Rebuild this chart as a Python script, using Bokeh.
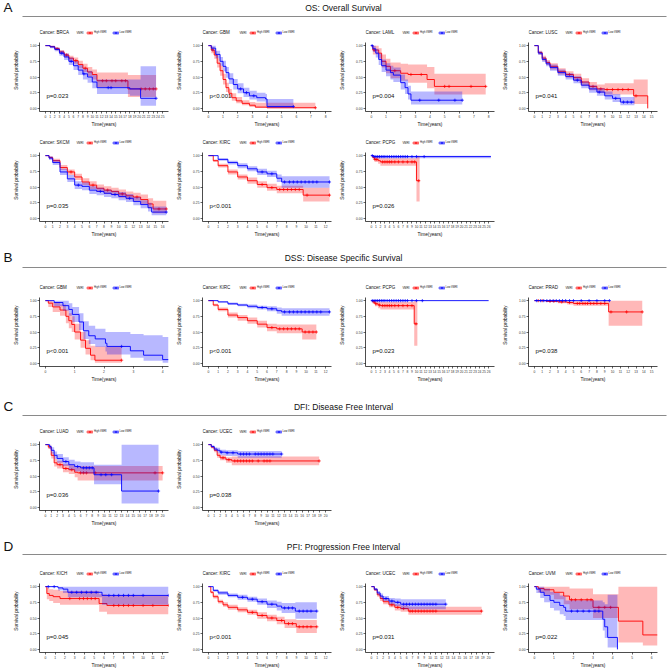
from bokeh.plotting import figure
from bokeh.layouts import column, row
from bokeh.models import Range1d, FixedTicker, NumeralTickFormatter, Label, Legend, LegendItem, Spacer
from bokeh.core.properties import value
from bokeh.embed import file_html
from bokeh.resources import INLINE

FONT = "Liberation Sans"
RED = "#FF0000"
BLUE = "#0000FF"

# ---------------- data: (time, survival, lower CI, upper CI) step points ----------------
OS_BRCA_HIGH = [(0,1,1,1),(1,0.985,0.97,1.0),(2,0.95,0.93,0.97),(3,0.90,0.87,0.93),(4,0.85,0.81,0.88),(5,0.80,0.76,0.84),(6,0.76,0.71,0.81),(7,0.70,0.64,0.76),(8,0.64,0.58,0.71),(9,0.58,0.51,0.66),(10,0.54,0.46,0.62),(11,0.44,0.34,0.57),(17.6,0.31,0.18,0.53),(23.6,0.31,0.18,0.53)]
OS_BRCA_HIGH_C = [2.5,4.5,6.5,8.5,12.2,13.0,14.2,15.0,16.3,17.1,20.4,21.3,22.2,23.0,23.6]
OS_BRCA_LOW = [(0,1,1,1),(1,0.98,0.96,1.0),(2,0.94,0.91,0.97),(3,0.88,0.84,0.92),(4,0.82,0.77,0.87),(5,0.75,0.69,0.81),(6,0.68,0.61,0.75),(7,0.61,0.53,0.69),(8,0.55,0.46,0.63),(9,0.50,0.41,0.60),(10,0.42,0.32,0.53),(11,0.33,0.23,0.46),(18,0.31,0.20,0.46),(20.3,0.16,0.04,0.67),(23.6,0.16,0.04,0.67)]
OS_BRCA_LOW_C = [3.5,5.5,8.2,13.4,14.0,23.6]

OS_GBM_HIGH = [(0,1,1,1),(0.2,0.93,0.88,0.98),(0.4,0.85,0.79,0.91),(0.6,0.72,0.65,0.80),(0.8,0.60,0.52,0.68),(1.0,0.46,0.38,0.55),(1.2,0.33,0.26,0.41),(1.4,0.24,0.18,0.31),(1.6,0.17,0.12,0.24),(1.9,0.12,0.08,0.18),(2.3,0.08,0.05,0.13),(2.8,0.05,0.02,0.10),(3.2,0.02,0.005,0.09),(4.0,0.01,0.0,0.09),(7.3,0.01,0.0,0.09)]
OS_GBM_HIGH_C = [0.3,7.3]
OS_GBM_LOW = [(0,1,1,1),(0.2,0.96,0.92,1.0),(0.5,0.86,0.80,0.92),(0.8,0.75,0.68,0.82),(1.0,0.67,0.59,0.76),(1.2,0.57,0.49,0.66),(1.4,0.47,0.39,0.56),(1.7,0.38,0.30,0.47),(2.0,0.31,0.24,0.40),(2.4,0.25,0.18,0.33),(2.8,0.20,0.14,0.28),(3.3,0.17,0.11,0.25),(3.9,0.15,0.09,0.23),(4.0,0.03,0.005,0.15),(5.8,0.03,0.005,0.15)]
OS_GBM_LOW_C = [2.2,2.6,3.1,5.8]

OS_LAML_HIGH = [(0,1,1,1),(0.1,0.93,0.86,1.0),(0.5,0.88,0.80,0.96),(0.7,0.75,0.65,0.86),(1.0,0.67,0.56,0.79),(1.3,0.60,0.48,0.73),(2.0,0.56,0.44,0.71),(2.5,0.54,0.41,0.70),(3.8,0.46,0.32,0.66),(4.3,0.35,0.22,0.55),(7.8,0.35,0.22,0.55)]
OS_LAML_HIGH_C = [0.2,1.6,2.7,3.4,5.0,5.3,6.8,7.8]
OS_LAML_LOW = [(0,1,1,1),(0.1,0.95,0.90,1.0),(0.3,0.88,0.81,0.95),(0.5,0.78,0.69,0.87),(0.7,0.68,0.58,0.78),(1.0,0.61,0.51,0.72),(1.3,0.57,0.46,0.68),(1.5,0.53,0.42,0.65),(2.0,0.41,0.30,0.54),(2.3,0.33,0.23,0.46),(2.5,0.23,0.14,0.36),(2.7,0.13,0.06,0.27),(6.2,0.13,0.06,0.27)]
OS_LAML_LOW_C = [0.05,3.3,4.6,5.7,6.2]

OS_LUSC_HIGH = [(0,1,1,1),(0.5,0.89,0.86,0.92),(1,0.80,0.76,0.84),(1.5,0.73,0.69,0.77),(2,0.67,0.62,0.72),(3,0.59,0.54,0.64),(4,0.54,0.49,0.59),(5,0.49,0.44,0.55),(6,0.42,0.36,0.48),(7,0.35,0.29,0.42),(8,0.31,0.25,0.38),(9,0.30,0.22,0.40),(12.7,0.20,0.07,0.46),(14.5,0.0,0.0,0.0)]
OS_LUSC_HIGH_C = [4.5,6.0,7.5,8.5,9.3,10.0,10.7,11.3,12.0,13.0]
OS_LUSC_LOW = [(0,1,1,1),(0.5,0.88,0.85,0.91),(1,0.78,0.74,0.82),(1.5,0.71,0.67,0.75),(2,0.65,0.60,0.70),(3,0.57,0.52,0.62),(4,0.51,0.46,0.56),(5,0.45,0.40,0.51),(6,0.37,0.32,0.43),(7,0.31,0.25,0.37),(8,0.26,0.20,0.32),(9,0.20,0.14,0.27),(10,0.16,0.10,0.23),(11,0.10,0.05,0.18),(12.8,0.10,0.05,0.18)]
OS_LUSC_LOW_C = [5.5,8.3,10.4,11.4,11.9,12.4]

OS_SKCM_HIGH = [(0,1,1,1),(0.5,0.97,0.95,0.99),(1,0.92,0.89,0.95),(2,0.81,0.77,0.85),(3,0.74,0.69,0.78),(4,0.66,0.61,0.71),(5,0.58,0.53,0.64),(6,0.53,0.47,0.59),(7,0.48,0.42,0.54),(8,0.45,0.39,0.51),(9,0.43,0.37,0.49),(10,0.39,0.33,0.46),(11,0.36,0.30,0.43),(12,0.34,0.28,0.41),(13,0.30,0.23,0.38),(14,0.23,0.16,0.32),(14.7,0.15,0.08,0.28),(16.5,0.15,0.08,0.28)]
OS_SKCM_HIGH_C = [3.5,6.5,8.5,10.5,12.5,15.5,16.5]
OS_SKCM_LOW = [(0,1,1,1),(0.5,0.96,0.93,0.99),(1,0.89,0.85,0.93),(2,0.74,0.69,0.79),(3,0.63,0.58,0.69),(4,0.53,0.47,0.59),(5,0.51,0.45,0.57),(6,0.45,0.39,0.51),(7,0.43,0.37,0.49),(8,0.40,0.34,0.46),(9,0.38,0.32,0.44),(10,0.35,0.29,0.42),(11,0.32,0.26,0.39),(12,0.27,0.21,0.34),(13,0.22,0.16,0.29),(14,0.17,0.11,0.25),(14.5,0.10,0.05,0.19),(16.5,0.10,0.05,0.19)]
OS_SKCM_LOW_C = [4.5,7.5,9.5,11.5,16.5]

OS_KIRC_HIGH = [(0,1,1,1),(0.5,0.92,0.90,0.94),(1,0.84,0.81,0.87),(2,0.74,0.70,0.78),(3,0.66,0.62,0.70),(4,0.60,0.55,0.65),(5,0.54,0.49,0.59),(6,0.49,0.44,0.55),(7,0.46,0.40,0.52),(9.7,0.37,0.27,0.49),(12.4,0.37,0.27,0.49)]
OS_KIRC_HIGH_C = [5.5,6.5,7.3,7.7,8.1,8.5,8.9,9.3,10.1,12.4]
OS_KIRC_LOW = [(0,1,1,1),(1,0.94,0.92,0.96),(2,0.89,0.86,0.92),(3,0.84,0.80,0.88),(4,0.79,0.75,0.83),(5,0.74,0.69,0.79),(6,0.71,0.66,0.76),(7,0.64,0.58,0.70),(7.5,0.58,0.49,0.67),(12.4,0.58,0.49,0.67)]
OS_KIRC_LOW_C = [5.5,6.5,7.8,8.3,8.7,9.1,9.5,9.9,10.3,10.7,11.1,12.4]

OS_PCPG_HIGH = [(0,1,1,1),(0.3,0.97,0.94,1.0),(0.7,0.94,0.90,0.98),(1.5,0.92,0.87,0.97),(2.0,0.90,0.84,0.96),(10.0,0.60,0.27,1.0),(10.7,0.60,0.27,1.0)]
OS_PCPG_HIGH_C = [0.8,1.2,2.5,3.0,3.5,4.0,4.5,5.2,6.0,7.0,8.0,9.0,9.6,10.5]
OS_PCPG_LOW = [(0,1,1,1),(0.5,0.985,0.96,1.0),(26.5,0.985,0.96,1.0)]
OS_PCPG_LOW_C = [0.2,0.6,1.0,1.4,1.8,2.2,2.6,3.0,3.5,4.0,4.5,5.0,5.5,6.0,6.5,7.0,7.5,8.0,9.0,10.0,11.7]

DSS_GBM_HIGH = [(0,1,1,1),(0.1,0.96,0.90,1.0),(0.25,0.90,0.82,0.98),(0.5,0.85,0.76,0.94),(0.7,0.75,0.64,0.86),(0.8,0.68,0.56,0.80),(0.9,0.62,0.50,0.75),(1.0,0.50,0.38,0.63),(1.2,0.37,0.25,0.50),(1.37,0.24,0.14,0.37),(1.54,0.13,0.05,0.28),(1.69,0.05,0.01,0.27),(2.6,0.05,0.01,0.27)]
DSS_GBM_HIGH_C = [2.6]
DSS_GBM_LOW = [(0,1,1,1),(0.3,0.97,0.91,1.0),(0.6,0.92,0.84,1.0),(0.8,0.86,0.76,0.96),(0.92,0.78,0.66,0.90),(1.15,0.66,0.53,0.80),(1.3,0.52,0.39,0.67),(1.48,0.44,0.31,0.60),(1.7,0.39,0.26,0.55),(2.05,0.32,0.19,0.50),(2.1,0.27,0.14,0.50),(2.9,0.20,0.09,0.47),(3.35,0.13,0.04,0.45),(4.0,0.06,0.01,0.42),(4.2,0.06,0.01,0.42)]
DSS_GBM_LOW_C = [2.6]

DSS_KIRC_HIGH = [(0,1,1,1),(0.5,0.93,0.91,0.95),(1,0.86,0.83,0.89),(2,0.77,0.73,0.81),(3,0.73,0.68,0.77),(4,0.68,0.63,0.73),(5,0.625,0.57,0.68),(6,0.57,0.51,0.63),(7,0.55,0.48,0.62),(9.6,0.50,0.38,0.62),(11.05,0.50,0.38,0.62)]
DSS_KIRC_HIGH_C = [6.5,7.3,7.7,8.1,8.5,8.9,9.3,9.9,10.3,10.7,11.05]
DSS_KIRC_LOW = [(0,1,1,1),(1,0.98,0.97,0.99),(2,0.95,0.93,0.97),(3,0.93,0.91,0.95),(4,0.91,0.88,0.94),(5,0.89,0.86,0.92),(6,0.87,0.83,0.91),(7,0.84,0.79,0.89),(7.5,0.82,0.76,0.88),(12.4,0.82,0.76,0.88)]
DSS_KIRC_LOW_C = [5.5,6.5,7.8,8.3,8.7,9.1,9.5,9.9,10.3,10.7,11.1,11.5,12.4]

DSS_PCPG_HIGH = [(0,1,1,1),(0.3,0.98,0.95,1.0),(0.8,0.95,0.91,0.99),(1.5,0.93,0.88,0.98),(2.0,0.92,0.86,0.98),(9.5,0.63,0.28,1.0),(10.2,0.63,0.28,1.0)]
DSS_PCPG_HIGH_C = [0.6,1.0,1.8,2.5,3.0,3.5,4.0,4.5,5.2,6.0,7.0,8.0,9.0,9.9]
DSS_PCPG_LOW = [(0,1,1,1),(26,1,1,1)]
DSS_PCPG_LOW_C = [0.2,0.6,1.0,1.4,1.8,2.2,2.6,3.0,3.5,4.0,4.5,5.0,5.5,6.0,6.5,7.0,7.5,8.0,9.0,10.0,11.3]

DSS_PRAD_HIGH = [(0,1,1,1),(1.5,0.99,0.98,1.0),(3,0.98,0.96,1.0),(4.2,0.97,0.94,0.99),(5,0.955,0.92,0.99),(9.5,0.82,0.60,1.0),(13.8,0.82,0.60,1.0)]
DSS_PRAD_HIGH_C = [0.5,1.0,2.0,2.5,3.5,4.5,5.5,5.8,6.2,6.5,6.8,7.2,7.6,8.0,8.5,9.0,9.8,11.8,13.8]
DSS_PRAD_LOW = [(0,1,1,1),(9.6,1,1,1)]
DSS_PRAD_LOW_C = [0.3,0.8,1.2,1.6,2.0,2.4,2.8,3.2,3.6,4.0,4.5,5.0,6.0,7.0,8.0,9.0,9.6]

DFI_LUAD_HIGH = [(0,1,1,1),(0.5,0.96,0.93,0.99),(1,0.83,0.78,0.88),(1.5,0.71,0.65,0.77),(2,0.68,0.62,0.74),(3,0.62,0.56,0.69),(4,0.60,0.53,0.67),(5,0.56,0.48,0.64),(5.5,0.55,0.43,0.66),(20,0.55,0.43,0.66)]
DFI_LUAD_HIGH_C = [2.5,3.5,4.5,6.0,6.5,7.0,8.5,18.7,20.0]
DFI_LUAD_LOW = [(0,1,1,1),(0.7,0.97,0.93,1.0),(1,0.91,0.86,0.96),(1.5,0.83,0.77,0.89),(2,0.78,0.71,0.85),(3,0.73,0.66,0.80),(4,0.68,0.60,0.76),(5,0.65,0.57,0.73),(6,0.63,0.54,0.72),(8.3,0.52,0.37,0.68),(13,0.26,0.06,1.0),(19.3,0.26,0.06,1.0)]
DFI_LUAD_LOW_C = [3.5,5.5,6.5,7.0,7.5,8.0,9.5,10.3,11.3,19.3]

DFI_UCEC_HIGH = [(0,1,1,1),(0.5,0.96,0.94,0.98),(1,0.91,0.88,0.94),(1.5,0.83,0.79,0.87),(2,0.79,0.75,0.83),(3,0.76,0.71,0.80),(4,0.74,0.67,0.81),(18.9,0.74,0.67,0.81)]
DFI_UCEC_HIGH_C = [2.5,3.5,4.5,5.0,5.5,6.0,6.5,7.0,7.5,8.5,9.5,10.0,10.5,18.9]
DFI_UCEC_LOW = [(0,1,1,1),(0.5,0.97,0.95,0.99),(1,0.93,0.90,0.96),(1.5,0.91,0.87,0.95),(2,0.88,0.83,0.92),(3,0.87,0.82,0.91),(5,0.85,0.79,0.90),(12.5,0.85,0.79,0.90)]
DFI_UCEC_LOW_C = [2.2,3.2,4.2,5.5,6.0,6.5,7.0,8.0,8.5,9.0,9.5,10.0,10.5,11.0,12.5]

PFI_KICH_HIGH = [(0,1,1,1),(0.15,0.89,0.80,0.98),(0.4,0.86,0.77,0.96),(0.8,0.84,0.74,0.95),(1.5,0.81,0.71,0.93),(5.5,0.73,0.60,0.88),(6.3,0.70,0.56,0.86),(12.6,0.70,0.56,0.86)]
PFI_KICH_HIGH_C = [2.5,3.5,3.9,4.3,4.7,5.1,7.0,7.5,8.0,8.5,9.0,10.0,11.0,12.6]
PFI_KICH_LOW = [(0,1,1,1),(1.3,0.98,0.94,1.0),(1.8,0.96,0.90,1.0),(2.3,0.91,0.83,1.0),(5.8,0.86,0.71,1.0),(12.6,0.86,0.71,1.0)]
PFI_KICH_LOW_C = [0.3,0.9,2.7,3.2,3.7,4.2,4.7,5.2,6.5,7.0,7.5,8.0,8.5,9.0,10.0,12.6]

PFI_KIRC_HIGH = [(0,1,1,1),(0.25,0.91,0.89,0.93),(0.5,0.84,0.81,0.87),(1,0.76,0.73,0.79),(1.5,0.71,0.68,0.75),(2,0.67,0.63,0.71),(3,0.63,0.59,0.67),(4,0.59,0.55,0.63),(5,0.54,0.49,0.59),(6,0.50,0.45,0.55),(7,0.46,0.40,0.52),(7.8,0.41,0.34,0.48),(9,0.36,0.26,0.47),(11.1,0.36,0.26,0.47)]
PFI_KIRC_HIGH_C = [4.5,5.5,6.5,7.5,8.2,8.6,9.3,9.7,10.1,10.5,11.1]
PFI_KIRC_LOW = [(0,1,1,1),(0.5,0.94,0.92,0.96),(1,0.90,0.87,0.93),(2,0.86,0.83,0.89),(3,0.83,0.79,0.87),(4,0.80,0.76,0.84),(5,0.76,0.71,0.81),(6,0.72,0.66,0.78),(7,0.69,0.62,0.76),(7.5,0.66,0.58,0.74),(8.9,0.61,0.49,0.75),(11.1,0.61,0.49,0.75)]
PFI_KIRC_LOW_C = [3.5,4.5,5.5,6.5,7.8,8.2,8.6,9.3,9.7,10.1,10.5,11.1]

PFI_UCEC_HIGH = [(0,1,1,1),(0.5,0.95,0.93,0.97),(1,0.87,0.84,0.90),(1.5,0.81,0.77,0.85),(2,0.76,0.72,0.80),(3,0.71,0.67,0.75),(4,0.67,0.62,0.72),(5,0.65,0.60,0.70),(6.3,0.61,0.55,0.68),(18.8,0.61,0.55,0.68)]
PFI_UCEC_HIGH_C = [3.5,4.5,5.5,6.6,7.0,7.5,8.0,8.5,9.0,9.5,10.0,10.5,11.0,18.8]
PFI_UCEC_LOW = [(0,1,1,1),(0.5,0.96,0.94,0.98),(1,0.90,0.87,0.93),(1.5,0.85,0.81,0.89),(2,0.81,0.77,0.85),(3,0.77,0.72,0.82),(4,0.75,0.69,0.81),(5,0.72,0.64,0.80),(12.7,0.72,0.64,0.80)]
PFI_UCEC_LOW_C = [2.5,3.5,4.5,5.5,6.0,6.5,7.0,7.5,8.0,8.5,9.0,9.5,10.0,10.5,11.0,12.7]

PFI_UVM_HIGH = [(0,1,1,1),(0.2,0.97,0.91,1.0),(0.5,0.95,0.87,1.0),(1,0.91,0.80,1.0),(1.5,0.85,0.72,1.0),(1.8,0.79,0.64,0.97),(3.0,0.67,0.50,0.88),(4.3,0.45,0.11,1.0),(5.55,0.23,0.06,1.0),(6.3,0.23,0.06,1.0)]
PFI_UVM_HIGH_C = [1.9,2.1,2.4,2.7,2.9,3.3,3.6,3.9]
PFI_UVM_LOW = [(0,1,1,1),(0.1,0.96,0.90,1.0),(0.3,0.91,0.82,1.0),(0.5,0.86,0.75,0.97),(0.8,0.78,0.66,0.92),(1.0,0.75,0.62,0.90),(1.3,0.70,0.56,0.86),(1.5,0.67,0.53,0.84),(1.6,0.61,0.47,0.78),(3.5,0.48,0.30,0.75),(3.6,0.36,0.18,0.72),(3.75,0.19,0.03,0.87),(4.25,0.0,0.0,0.0)]
PFI_UVM_LOW_C = [1.9,2.2,2.5,2.8,3.1,3.3]

# panel: (cancer, p-value, last x tick, high curve, high censor, low curve, low censor)
ROW_A1 = [("BRCA","p=0.023",25,OS_BRCA_HIGH,OS_BRCA_HIGH_C,OS_BRCA_LOW,OS_BRCA_LOW_C),
          ("GBM","p<0.001",8,OS_GBM_HIGH,OS_GBM_HIGH_C,OS_GBM_LOW,OS_GBM_LOW_C),
          ("LAML","p=0.004",8,OS_LAML_HIGH,OS_LAML_HIGH_C,OS_LAML_LOW,OS_LAML_LOW_C),
          ("LUSC","p=0.041",15,OS_LUSC_HIGH,OS_LUSC_HIGH_C,OS_LUSC_LOW,OS_LUSC_LOW_C)]
ROW_A2 = [("SKCM","p=0.035",16,OS_SKCM_HIGH,OS_SKCM_HIGH_C,OS_SKCM_LOW,OS_SKCM_LOW_C),
          ("KIRC","p<0.001",12,OS_KIRC_HIGH,OS_KIRC_HIGH_C,OS_KIRC_LOW,OS_KIRC_LOW_C),
          ("PCPG","p=0.026",26,OS_PCPG_HIGH,OS_PCPG_HIGH_C,OS_PCPG_LOW,OS_PCPG_LOW_C)]
ROW_B = [("GBM","p<0.001",4,DSS_GBM_HIGH,DSS_GBM_HIGH_C,DSS_GBM_LOW,DSS_GBM_LOW_C),
         ("KIRC","p<0.001",12,DSS_KIRC_HIGH,DSS_KIRC_HIGH_C,DSS_KIRC_LOW,DSS_KIRC_LOW_C),
         ("PCPG","p=0.023",26,DSS_PCPG_HIGH,DSS_PCPG_HIGH_C,DSS_PCPG_LOW,DSS_PCPG_LOW_C),
         ("PRAD","p=0.038",15,DSS_PRAD_HIGH,DSS_PRAD_HIGH_C,DSS_PRAD_LOW,DSS_PRAD_LOW_C)]
ROW_C = [("LUAD","p=0.036",20,DFI_LUAD_HIGH,DFI_LUAD_HIGH_C,DFI_LUAD_LOW,DFI_LUAD_LOW_C),
         ("UCEC","p=0.038",20,DFI_UCEC_HIGH,DFI_UCEC_HIGH_C,DFI_UCEC_LOW,DFI_UCEC_LOW_C)]
ROW_D = [("KICH","p=0.045",12,PFI_KICH_HIGH,PFI_KICH_HIGH_C,PFI_KICH_LOW,PFI_KICH_LOW_C),
         ("KIRC","p<0.001",12,PFI_KIRC_HIGH,PFI_KIRC_HIGH_C,PFI_KIRC_LOW,PFI_KIRC_LOW_C),
         ("UCEC","p=0.031",20,PFI_UCEC_HIGH,PFI_UCEC_HIGH_C,PFI_UCEC_LOW,PFI_UCEC_LOW_C),
         ("UVM","p=0.022",6,PFI_UVM_HIGH,PFI_UVM_HIGH_C,PFI_UVM_LOW,PFI_UVM_LOW_C)]

Y_TICKS = [0, 0.25, 0.5, 0.75, 1.0]
PANEL_W = 163
LEFT_B = 31
RIGHT_B = 3
TOP_B = 14
FRAME_H = 69
HEADER_W = 668


def step_path(pts):
    xs, ys, lo, hi = [pts[0][0]], [pts[0][1]], [pts[0][2]], [pts[0][3]]
    for i in range(1, len(pts)):
        t = pts[i][0]
        xs += [t, t]
        ys += [pts[i - 1][1], pts[i][1]]
        lo += [pts[i - 1][2], pts[i][2]]
        hi += [pts[i - 1][3], pts[i][3]]
    return xs, ys, lo, hi


def surv_at(pts, c):
    v = pts[0][1]
    for t, s, _, _ in pts:
        if t <= c:
            v = s
    return v


def add_group(p, pts, cens, color):
    xs, ys, lo, hi = step_path(pts)
    band = p.varea(x=xs, y1=lo, y2=hi, fill_color=color, fill_alpha=0.28)
    line = p.line(x=xs, y=ys, line_color=color, line_width=0.9)
    cy = [surv_at(pts, c) for c in cens]
    sc = p.scatter(x=cens, y=cy, marker="cross", size=3.2, line_color=color, line_width=0.7)
    return [band, line, sc]


def make_panel(spec, bottom):
    cancer, pval, xmax, high, high_c, low, low_c = spec
    fh = TOP_B + FRAME_H
    # frame extends TOP_B px above the data area so the legend row is drawn inside it
    ytop = 1.05 + 1.1 * TOP_B / FRAME_H
    p = figure(width=PANEL_W, height=fh + bottom,
               frame_width=PANEL_W - LEFT_B - RIGHT_B, frame_height=fh, title=None,
               x_range=Range1d(-0.05 * xmax, 1.05 * xmax), y_range=Range1d(-0.05, ytop),
               output_backend="svg", toolbar_location=None,
               min_border_left=LEFT_B, min_border_right=RIGHT_B, min_border_top=0,
               min_border_bottom=bottom)
    p.xgrid.visible = False
    p.ygrid.visible = False
    p.outline_line_color = None
    rh = add_group(p, high, high_c, RED)
    rl = add_group(p, low, low_c, BLUE)

    p.xaxis.ticker = FixedTicker(ticks=list(range(0, xmax + 1)))
    p.yaxis.ticker = FixedTicker(ticks=Y_TICKS)
    p.yaxis.bounds = (-0.05, 1.05)
    p.yaxis.formatter = NumeralTickFormatter(format="0.00")
    p.xaxis.axis_label = "Time(years)"
    p.yaxis.axis_label = "Survival probability"
    for ax in (p.xaxis[0], p.yaxis[0]):
        ax.axis_line_color = "black"
        ax.axis_line_width = 0.7
        ax.major_tick_line_color = "black"
        ax.major_tick_line_width = 0.6
        ax.major_tick_out = 2
        ax.major_tick_in = 0
        ax.minor_tick_line_color = None
        ax.major_label_text_font = FONT
        ax.major_label_text_font_size = "3.3px"
        ax.major_label_text_color = "#333333"
        ax.major_label_standoff = 1
        ax.axis_label_text_font = FONT
        ax.axis_label_text_font_size = "4.7px"
        ax.axis_label_text_font_style = "normal"
        ax.axis_label_text_color = "#111111"
    p.xaxis.axis_label_standoff = 1
    p.yaxis.axis_label_standoff = 8

    p.add_layout(Label(x=0, y=FRAME_H + 10, x_units="screen", y_units="screen",
                       text="Cancer: " + cancer, text_font=FONT, text_font_size="4.5px",
                       text_baseline="middle", text_color="#111111"))
    p.add_layout(Label(x=37, y=FRAME_H + 10, x_units="screen", y_units="screen",
                       text="VMRI", text_font=FONT, text_font_size="2.8px",
                       text_baseline="middle", text_color="#111111"))
    leg = Legend(items=[LegendItem(label="High VMRI", renderers=rh),
                        LegendItem(label="Low VMRI", renderers=rl)],
                 location=(47, FRAME_H + 7.5), orientation="horizontal",
                 background_fill_alpha=0, border_line_color=None,
                 label_text_font=FONT, label_text_font_size="2.6px", label_text_color="#111111",
                 glyph_width=7, glyph_height=5, label_height=5, label_width=8,
                 label_standoff=1, spacing=5, padding=0, margin=0)
    p.add_layout(leg)
    p.add_layout(Label(x=7, y=0.19, x_units="screen", y_units="data", text=pval,
                       text_font=FONT, text_font_size="6px", text_baseline="middle",
                       text_color="#111111"))
    return p


def make_header(letter, title, h, letter_y, line_y):
    p = figure(width=HEADER_W, height=h, title=None, x_range=Range1d(0, HEADER_W), y_range=Range1d(0, h),
               output_backend="svg", toolbar_location=None, min_border=0,
               x_axis_type=None, y_axis_type=None)
    p.outline_line_color = None
    p.text(x=[3], y=[h - letter_y], text=[letter], text_font=value(FONT), text_font_size="13.5px",
           text_baseline="middle", text_align="left", text_color="#111111")
    p.text(x=[343], y=[h - letter_y], text=[title], text_font=value(FONT), text_font_size="8.5px",
           text_baseline="middle", text_align="center", text_color="#111111")
    p.segment(x0=[22], y0=[h - line_y], x1=[666], y1=[h - line_y], line_color="#8a8a8a", line_width=1.2)
    return p


def panel_row(specs, bottom):
    return row(Spacer(width=8, height=10), *[make_panel(s, bottom) for s in specs])


layout = column(
    make_header("A", "OS: Overall Survival", 28, 7, 16),
    panel_row(ROW_A1, 27),
    panel_row(ROW_A2, 23),
    make_header("B", "DSS: Disease Specific Survival", 39, 13, 23),
    panel_row(ROW_B, 23),
    make_header("C", "DFI: Disease Free Interval", 38, 17, 26),
    panel_row(ROW_C, 23),
    make_header("D", "PFI: Progression Free Interval", 36, 13, 21),
    panel_row(ROW_D, 16),
)

open("out.html", "w").write(file_html(layout, INLINE))
